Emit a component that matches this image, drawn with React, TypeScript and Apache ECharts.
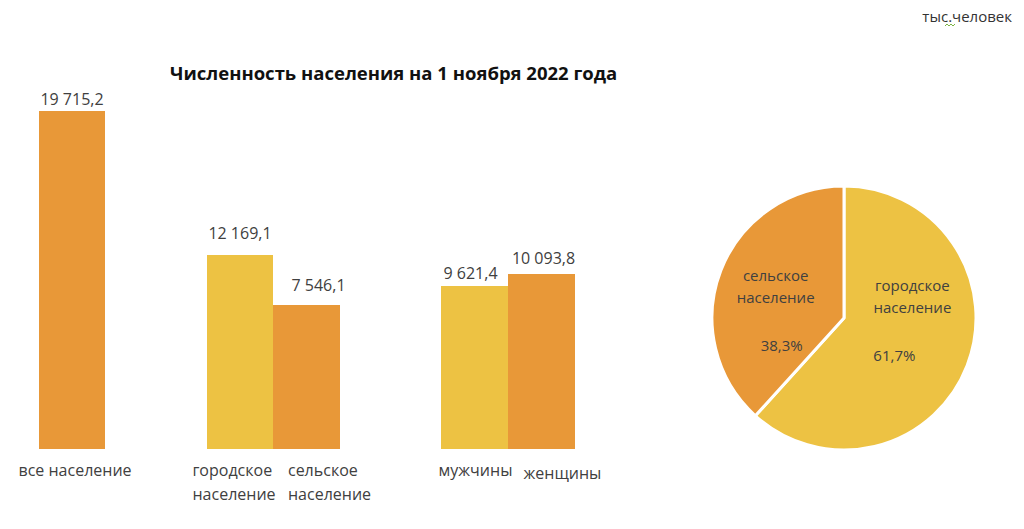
import React, { useEffect, useRef } from "react";
import * as echarts from "echarts";

// ---- data ----
const categories = ["все население", "городское население", "сельское население", "мужчины", "женщины"];
const tickLabels = ["все население", "городское\nнаселение", "сельское\nнаселение", "мужчины", "женщины"];
const values = [19715.2, 12169.1, 7546.1, 9621.4, 10093.8];
const pieNames = ["городское население", "сельское население"];
const pieValues = [12169.1, 7546.1];
const titleText = "Численность населения на 1 ноября 2022 года";
const unitText = "тыс.человек";

// ---- layout / style ----
const ORANGE = "#E89838";
const YELLOW = "#EDC243";
const TEXT = "#404040";
const FONT = "'Open Sans', 'Noto Sans', sans-serif";
const barColors = [ORANGE, YELLOW, ORANGE, YELLOW, ORANGE];
const barLeft = [39, 207, 273, 441, 508];
const barWidthPx = [66, 66, 67, 67, 67];
const axisMax = [22690, 24401, 20385, 22962, 22437];
const labelDist = [4, 14, 12, 5, 8];
const labelOffsetX = [0, 0, 12, -4, 2];
const catShift = [3, -6, 23, 1, 21];
const pieColors = [YELLOW, ORANGE];
const piePctPad = [
  [0, 36, 0, 0],
  [0, 0, 0, 12],
];
const pieLabelOffset = [
  [4, -23],
  [-4, 17],
];

function fmt(v: number): string {
  const [i, d] = v.toFixed(1).split(".");
  return i.replace(/\B(?=(\d{3})+(?!\d))/g, " ") + "," + d;
}

export default function App() {
  const ref = useRef<HTMLDivElement>(null);
  useEffect(() => {
    document.body.style.margin = "0";
    const chart = echarts.init(ref.current!, null, { renderer: "svg" });
    const grids = barLeft.map((l, i) => ({ left: l, width: barWidthPx[i], top: 60, height: 389 }));
    const xAxes = categories.map((c, i) => {
      const s = catShift[i];
      return {
        type: "category",
        gridIndex: i,
        data: [tickLabels[i]],
        axisLine: { show: false },
        axisTick: { show: false },
        axisLabel: {
          interval: 0,
          fontSize: 16,
          color: TEXT,
          fontFamily: FONT,
          lineHeight: 24,
          margin: i === 4 ? 12 : 9,
          padding: s > 0 ? [0, 0, 0, 2 * s] : [0, -2 * s, 0, 0],
          formatter: (v: string) =>
            v
              .split("\n")
              .map((line) => "{l|" + line + "}")
              .join("\n"),
          rich: {
            l: { fontSize: 16, color: TEXT, fontFamily: FONT, lineHeight: 24, align: "left" },
          },
        },
      };
    });
    const yAxes = categories.map((c, i) => ({ type: "value", gridIndex: i, min: 0, max: axisMax[i], show: false }));
    const barSeries = categories.map((c, i) => ({
      type: "bar",
      name: c,
      xAxisIndex: i,
      yAxisIndex: i,
      data: [values[i]],
      barWidth: "100%",
      itemStyle: { color: barColors[i] },
      label: {
        show: true,
        position: "top",
        distance: labelDist[i],
        offset: [labelOffsetX[i], 0],
        fontSize: 16,
        color: TEXT,
        fontFamily: FONT,
        formatter: (p: any) => fmt(p.value),
      },
    }));
    const pieSeries = {
      type: "pie",
      center: [844, 318],
      radius: 132,
      startAngle: 90,
      clockwise: true,
      itemStyle: { borderColor: "#fff", borderWidth: 3 },
      emphasis: { disabled: true },
      label: {
        show: true,
        position: "inside",
        fontFamily: FONT,
        fontSize: 15,
        color: TEXT,
      },
      data: pieNames.map((n, i) => ({
        name: n,
        value: pieValues[i],
        itemStyle: { color: pieColors[i] },
        label: {
          offset: pieLabelOffset[i],
          formatter: (p: any) =>
            n
              .split(" ")
              .map((w) => "{n|" + w + "}")
              .join("\n") +
            "\n{g|}\n{p|" +
            p.percent.toFixed(1).replace(".", ",") +
            "%}",
          rich: {
            n: { fontSize: 15, lineHeight: 22, color: TEXT, fontFamily: FONT },
            g: { fontSize: 15, lineHeight: 26 },
            p: { fontSize: 15, lineHeight: 22, color: TEXT, fontFamily: FONT, padding: piePctPad[i] },
          },
        },
      })),
    };
    chart.setOption({
      animation: false,
      grid: grids,
      xAxis: xAxes,
      yAxis: yAxes,
      series: [...barSeries, pieSeries],
      graphic: [
        {
          type: "text",
          left: 170,
          top: 63,
          style: { text: titleText, font: "bold 18.5px 'Open Sans', sans-serif", fill: "#111" },
        },
        {
          type: "text",
          right: 12,
          top: 8,
          style: { text: unitText, font: "15px 'Open Sans', sans-serif", fill: "#333" },
        },
        {
          type: "polyline",
          shape: { points: [[945, 26], [947, 24], [949, 26], [951, 24], [953, 26], [955, 24]] },
          style: { stroke: "#7cb342", lineWidth: 1, fill: "none" },
        },
      ],
    });
    return () => chart.dispose();
  }, []);
  return <div ref={ref} style={{ width: 1024, height: 529 }} />;
}
